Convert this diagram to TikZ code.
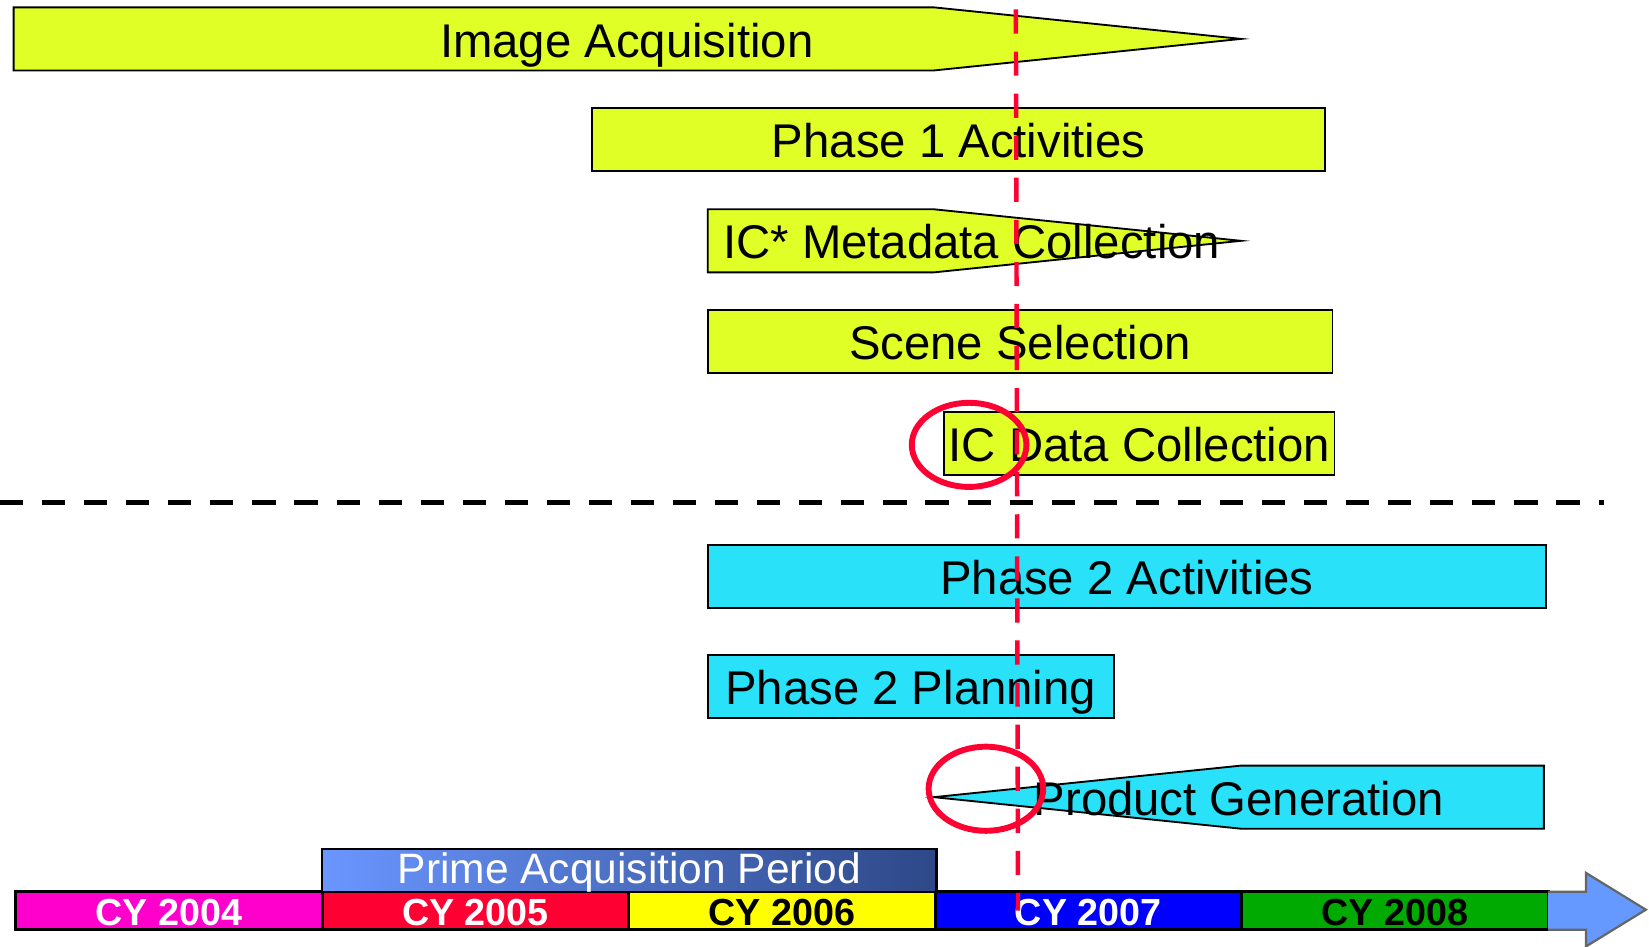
\documentclass[tikz,border=0pt]{standalone}
\usepackage{fontspec}
\setmainfont{Liberation Sans}
\usetikzlibrary{positioning,shapes,calc}
\definecolor{taskyellow}{RGB}{223,255,38}
\definecolor{taskcyan}{RGB}{41,226,250}
\definecolor{nowred}{RGB}{255,0,51}
\definecolor{cymagenta}{RGB}{255,0,204}
\definecolor{cyred}{RGB}{255,0,51}
\definecolor{cyyellow}{RGB}{255,255,0}
\definecolor{cyblue}{RGB}{0,0,255}
\definecolor{cygreen}{RGB}{0,170,0}
\definecolor{arrowblue}{RGB}{102,153,255}
\definecolor{primeleft}{RGB}{106,150,255}
\definecolor{primeright}{RGB}{46,72,135}
\tikzset{
  tasktext/.style = {inner sep=0pt, text height=9.8pt, text depth=0pt, font=\fontsize{12.8}{14}\selectfont},
  taskbox/.style = {tasktext, draw=black, line width=0.5pt, minimum height=6mm},
  taskshape/.style = {draw=black, line width=0.5pt},
  year/.style = {draw=black, line width=0.8pt, minimum width=29.14mm, minimum height=3.6mm, inner sep=0pt, outer sep=0pt,
                 text height=8pt, text depth=0pt, font=\fontsize{10.2}{12}\bfseries\selectfont},
  circled/.style = {ellipse, draw=nowred, line width=1.6pt, minimum width=10.9mm, minimum height=8mm}
}
\begin{document}
\begin{tikzpicture}[x = 0.1mm, y = -0.1mm]
    \useasboundingbox (0,0) rectangle (1568,900);

    \filldraw[taskshape, fill=taskyellow] (13,7) -- (888,7) -- (1180,37) -- (888,67) -- (13,67) -- cycle;
    \node[tasktext] (acq) at (596,37) {Image Acquisition};
    \node[taskbox, fill=taskyellow, minimum width=69.7mm] (phase1) at (911.5,133) {Phase 1 Activities};
    \filldraw[taskshape, fill=taskyellow] (673,199) -- (888,199) -- (1180,229) -- (888,259) -- (673,259) -- cycle;
    \node[tasktext] (meta) at (924,229) {IC* Metadata Collection};
    \node[taskbox, fill=taskyellow, minimum width=59.4mm] (scene) at (970,325) {Scene Selection};
    \node[taskbox, fill=taskyellow, minimum width=37.1mm] (icdata) at (1083.5,421.5) {IC Data Collection};

    \coordinate (split west) at (0,478);
    \coordinate (split east) at (1525,478);
    \draw[line width=1.2pt, dash pattern=on 2.2mm off 1.8mm] (split west) -- (split east);

    \node[taskbox, fill=taskcyan, minimum width=79.7mm] (phase2) at (1071.5,548) {Phase 2 Activities};
    \node[taskbox, fill=taskcyan, minimum width=38.6mm] (planning) at (866,653) {Phase 2 Planning};
    \filldraw[taskshape, fill=taskcyan] (888,758) -- (1180,728) -- (1468,728) -- (1468,788) -- (1180,788) -- cycle;
    \node[tasktext] (product) at (1178,758) {Product Generation};

    \node[year, fill=cymagenta, text=white] (cy2004) at (160.7,866) {CY 2004};
    \node[year, fill=cyred, text=white, right=0pt of cy2004] (cy2005) {CY 2005};
    \node[year, fill=cyyellow, text=black, right=0pt of cy2005] (cy2006) {CY 2006};
    \node[year, fill=cyblue, text=white, right=0pt of cy2006] (cy2007) {CY 2007};
    \node[year, fill=cygreen, text=black, right=0pt of cy2007] (cy2008) {CY 2008};
    \filldraw[fill=arrowblue, draw=black!60, line width=0.6pt]
      (cy2008.north east) -- ++(36,0) -- (1508,830) -- (1565,865) -- (1508,900) -- (1508,884) -- (cy2008.south east);

    \node[draw=black, line width=0.6pt, left color=primeleft, right color=primeright, text=white,
          minimum width=58.4mm, minimum height=4.1mm, inner sep=0pt, outer sep=0pt, text height=7.4pt, text depth=0pt,
          font=\fontsize{11.5}{13}\selectfont, anchor=south west] (prime) at (cy2005.north west) {Prime Acquisition Period};

    \node[circled] (focus1) at (921.5,423) {};
    \node[circled] (focus2) at (937.5,750) {};

    \coordinate (now top) at (966,9);
    \coordinate (now bottom) at (968,866);
    \draw[nowred, line width=1.2pt, dash pattern=on 2.3mm off 1.7mm] (now top) -- (now bottom);
\end{tikzpicture}
\end{document}
